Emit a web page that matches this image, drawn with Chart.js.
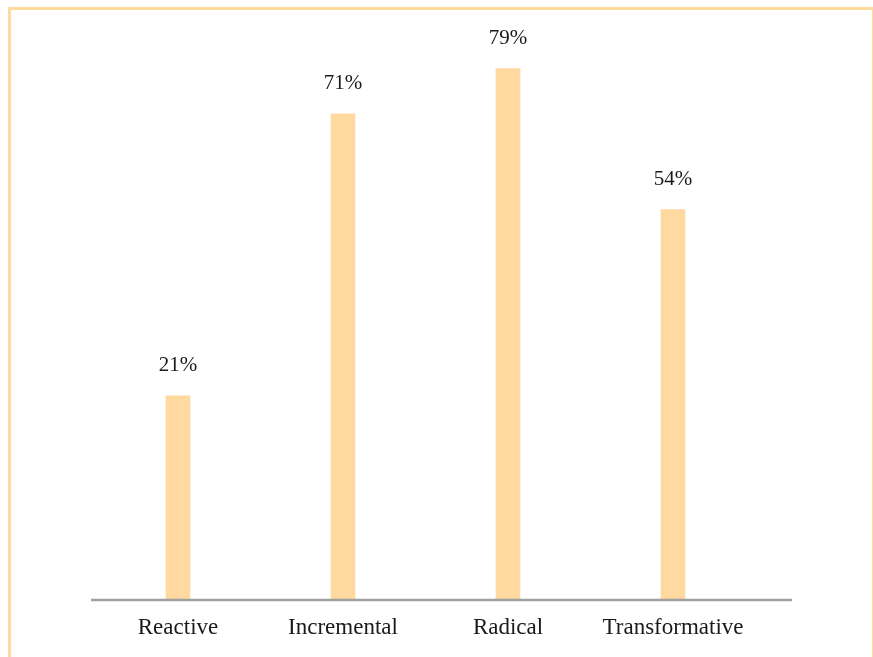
<!DOCTYPE html>
<html lang="en">
<head>
  <meta charset="UTF-8">
  <title>Innovation types</title>
  <script src="https://cdn.jsdelivr.net/npm/chart.js"></script>
  <style>
    html, body { margin: 0; padding: 0; background: #fff; overflow: hidden; }
    #frame {
      position: absolute; left: 8px; top: 7px;
      width: 867px; height: 700px; box-sizing: border-box;
      border: 3px solid #FFD99E;
    }
    #chart { position: absolute; left: 0; top: 0; }
  </style>
</head>
<body>
  <div id="frame"></div>
  <canvas id="chart" width="873" height="657"></canvas>

  <script>
    const categories = ['Reactive', 'Incremental', 'Radical', 'Transformative'];
    const shares = [21, 71, 79, 54];
    const valueLabels = ['21%', '71%', '79%', '54%'];

    const barColor = '#FFD9A0';
    const serif = '"Liberation Serif", "DejaVu Serif", serif';

    // bottom rule, a bit wider than the plot area like the original
    const axisLine = {
      id: 'axisLine',
      afterDatasetsDraw(chart) {
        const { ctx, chartArea } = chart;
        ctx.save();
        ctx.strokeStyle = '#A0A0A0';
        ctx.lineWidth = 2.5;
        ctx.beginPath();
        ctx.moveTo(chartArea.left - 4.5, chartArea.bottom + 1);
        ctx.lineTo(chartArea.right + 36.5, chartArea.bottom + 1);
        ctx.stroke();
        ctx.restore();
      }
    };

    // value labels above each bar
    const barLabels = {
      id: 'barLabels',
      afterDatasetsDraw(chart) {
        const { ctx } = chart;
        const meta = chart.getDatasetMeta(0);
        ctx.save();
        ctx.font = '21px ' + serif;
        ctx.fillStyle = '#1a1a1a';
        ctx.textAlign = 'center';
        ctx.textBaseline = 'middle';
        meta.data.forEach((bar, i) => {
          ctx.fillText(valueLabels[i], bar.x, bar.y - 30);
        });
        ctx.restore();
      }
    };

    new Chart(document.getElementById('chart'), {
      type: 'bar',
      data: {
        labels: categories,
        datasets: [{
          data: shares,
          base: -15,
          backgroundColor: barColor,
          borderWidth: 0,
          barThickness: 24
        }]
      },
      options: {
        responsive: false,
        animation: false,
        layout: { padding: { top: 63, left: 95.5, right: 117.5, bottom: 0 } },
        plugins: {
          legend: { display: false },
          tooltip: { enabled: false }
        },
        scales: {
          x: {
            grid: { display: false, drawTicks: false },
            border: { display: false },
            ticks: {
              padding: 15,
              color: '#1a1a1a',
              font: { family: serif, size: 23 }
            },
            afterFit: scale => { scale.height = 58; }
          },
          y: {
            display: false,
            min: -15,
            max: 80
          }
        }
      },
      plugins: [axisLine, barLabels]
    });
  </script>
</body>
</html>
